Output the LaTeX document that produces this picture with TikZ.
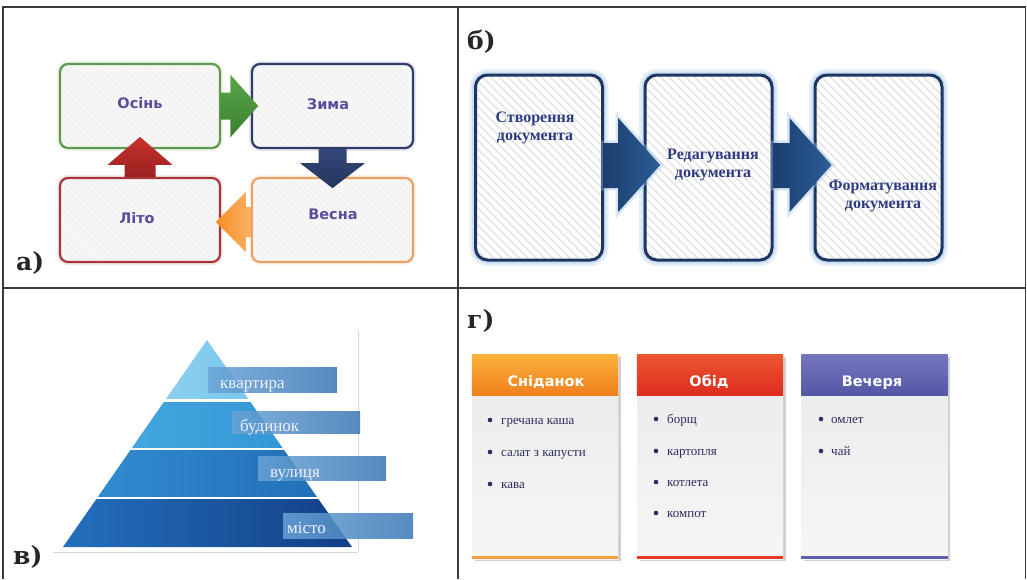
\documentclass[tikz,border=0pt]{standalone}
\usepackage{fontspec}
\setmainfont{Liberation Serif}
\newfontfamily\lblfont{DejaVu Serif}
\newfontfamily\sansfont{DejaVu Sans}
\usetikzlibrary{calc,patterns.meta,shadows}

\definecolor{framec}{HTML}{3A3A3A}
\definecolor{txtA}{HTML}{5A4E9C}
\definecolor{grnB}{HTML}{5E9A4E}
\definecolor{navB}{HTML}{2F3C68}
\definecolor{redB}{HTML}{A83838}
\definecolor{orgB}{HTML}{F0A060}
\definecolor{boxfill}{HTML}{F6F6F6}
\definecolor{grnA1}{HTML}{5AA84A}
\definecolor{grnA2}{HTML}{3A7F2E}
\definecolor{navA1}{HTML}{34467A}
\definecolor{navA2}{HTML}{26355E}
\definecolor{orgA1}{HTML}{F68C22}
\definecolor{orgA2}{HTML}{FBB266}
\definecolor{redA1}{HTML}{C8302A}
\definecolor{redA2}{HTML}{9A2222}
\definecolor{navyD}{HTML}{1D3563}
\definecolor{txtB}{HTML}{2E3B82}
\definecolor{glowB}{HTML}{9CC3E6}
\definecolor{arrB1}{HTML}{1B3E6E}
\definecolor{arrB2}{HTML}{2C5E96}
\definecolor{py1a}{HTML}{9ED8F2}
\definecolor{py1b}{HTML}{68BEE8}
\definecolor{py2a}{HTML}{4AAEE4}
\definecolor{py2b}{HTML}{2E8ED0}
\definecolor{py3a}{HTML}{3490D4}
\definecolor{py3b}{HTML}{1F6AB4}
\definecolor{py4a}{HTML}{2470BE}
\definecolor{py4b}{HTML}{123E84}
\definecolor{plabA}{HTML}{6AA4D6}
\definecolor{plabB}{HTML}{3A76B4}
\definecolor{cardA}{HTML}{EAEAEA}
\definecolor{cardB}{HTML}{F6F6F6}
\definecolor{h1a}{HTML}{FBB23A}
\definecolor{h1b}{HTML}{F07E1E}
\definecolor{h2a}{HTML}{EE5530}
\definecolor{h2b}{HTML}{DC2C1E}
\definecolor{h3a}{HTML}{7476BE}
\definecolor{h3b}{HTML}{5256A4}
\definecolor{s1}{HTML}{F5A040}
\definecolor{s2}{HTML}{E03A28}
\definecolor{s3}{HTML}{5E62AE}
\definecolor{itemc}{HTML}{2B2E5E}

\tikzset{
  panellabel/.style={font=\lblfont\bfseries\fontsize{25}{27}\selectfont, text=black!85, anchor=base west, inner sep=0pt},
  abox/.style={draw=#1, line width=2.2pt, rounded corners=8pt, minimum width=160pt, minimum height=84pt, inner sep=0pt,
    preaction={draw=#1!30, line width=6pt, opacity=0.35}, preaction={fill=boxfill},
    pattern={Lines[angle=-45,distance=4pt,line width=0.5pt]}, pattern color=gray!12},
  atext/.style={font=\sansfont\bfseries\fontsize{14.5}{16}\selectfont, text=txtA, inner sep=0pt},
  bbox/.style={draw=navyD, line width=3pt, rounded corners=12pt, minimum width=127pt, minimum height=185pt, inner sep=0pt,
    preaction={draw=glowB, line width=12pt, opacity=0.25}, preaction={draw=glowB, line width=7pt, opacity=0.35},
    preaction={fill=white}, pattern={Lines[angle=-45,distance=6pt,line width=1.4pt]}, pattern color=gray!22},
  btext/.style={font=\bfseries\fontsize{16}{18}\selectfont, text=txtB, align=center, inner sep=0pt},
  barrow/.style={left color=arrB1, right color=arrB2, preaction={draw=glowB, line width=5pt, opacity=0.4}},
  plab/.style={left color=plabA, right color=plabB, fill opacity=0.85, inner sep=0pt},
  ptxt/.style={font=\fontsize{17}{19}\selectfont, text=white!94!blue, anchor=base west, inner sep=0pt},
  card/.style={minimum width=146pt, minimum height=204pt, inner sep=0pt, top color=cardA, bottom color=cardB,
    drop shadow={shadow xshift=2.5pt, shadow yshift=-2pt, opacity=0.3, color=black!60}},
  htext/.style={font=\sansfont\bfseries\fontsize{14.5}{16}\selectfont, text=white, anchor=base, inner sep=0pt},
  itext/.style={font=\fontsize{13}{15}\selectfont, text=itemc, anchor=base west, inner sep=0pt},
  bul/.style={fill=itemc}
}

\begin{document}
\begin{tikzpicture}[x=1pt,y=-1pt]
\useasboundingbox (0,0) rectangle (1027,579);
\fill[white] (0,0) rectangle (1027,579);

% frame
\draw[framec, line width=1.8pt] (3,579) -- (3,7) -- (1025.5,7) -- (1025.5,579);
\draw[framec, line width=1.8pt] (458,7) -- (458,579);
\draw[framec, line width=1.8pt] (3,288) -- (1025.5,288);

% ---------- panel a ----------
\node[abox=grnB] (osin) at (140,106) {};
\node[abox=navB, minimum width=161pt] (zyma) at (332.5,106) {};
\node[abox=redB] (lito) at (140,220) {};
\node[abox=orgB, minimum width=161pt] (vesna) at (332.5,220) {};
\node[atext] (tosin) at (140,103) {Осінь};
\node[atext] (tzyma) at (328,104) {Зима};
\node[atext] (tlito) at (137,218) {Літо};
\node[atext] (tvesna) at (333,214) {Весна};

\path[shift={(osin.east)}, top color=grnA1, bottom color=grnA2]
  (0,-13.5) -- (10,-13.5) -- (10,-31.5) -- (38,0) -- (10,31.5) -- (10,13.5) -- (0,13.5) -- cycle;
\path[shift={(zyma.south)}, top color=navA1, bottom color=navA2]
  (-14,0) -- (-14,14) -- (-32.5,14) -- (0,39) -- (32.5,14) -- (14,14) -- (14,0) -- cycle;
\path[shift={(vesna.west)}, left color=orgA1, right color=orgA2]
  (0,-13) -- (-5,-13) -- (-5,-28) -- (-35,2) -- (-5,32) -- (-5,17) -- (0,17) -- cycle;
\path[shift={(lito.north)}, top color=redA1, bottom color=redA2]
  (-15.5,0) -- (-15.5,-12) -- (-32.5,-12) -- (0,-40) -- (32.5,-12) -- (15.5,-12) -- (15.5,0) -- cycle;

\node[panellabel] (la) at (16,270.5) {а)};

% ---------- panel b ----------
\node[panellabel] (lb) at (467,49) {б)};
\node[bbox] (b1) at (539,167.5) {};
\node[bbox] (b2) at (708.5,167.5) {};
\node[bbox] (b3) at (878.5,167.5) {};
\path[barrow, shift={(b1.east)}]
  (0,-24.5) -- (15,-24.5) -- (15,-49.5) -- (57,-2.5) -- (15,44.5) -- (15,20.5) -- (0,20.5) -- cycle;
\path[barrow, shift={(b2.east)}]
  (0,-24.5) -- (16,-24.5) -- (16,-49.5) -- (58,-2.5) -- (16,44.5) -- (16,20.5) -- (0,20.5) -- cycle;
\node[btext] (tb1) at (535,128) {Створення\\документа};
\node[btext] (tb2) at (713,165) {Редагування\\документа};
\node[btext] (tb3) at (883,196) {Форматування\\документа};

% ---------- panel v ----------
\draw[gray!30, line width=0.6pt] (53,552) -- (358,552);
\draw[gray!30, line width=0.6pt] (358,330) -- (358,552);
\begin{scope}
  \clip (207,340) -- (352,547) -- (63,547) -- cycle;
  \shade[left color=py1a, right color=py1b] (60,336) rectangle (356,398);
  \shade[left color=py2a, right color=py2b] (60,402) rectangle (356,447);
  \shade[left color=py3a, right color=py3b] (60,450) rectangle (356,496);
  \shade[left color=py4a, right color=py4b] (60,499) rectangle (356,547);
\end{scope}
\node[plab, minimum width=129pt, minimum height=25pt] (lkv) at (272.5,379.5) {};
\node[plab, minimum width=128pt, minimum height=22pt] (lbud) at (296,422) {};
\node[plab, minimum width=128pt, minimum height=24pt] (lvul) at (322,468) {};
\node[plab, minimum width=130pt, minimum height=25pt] (lmis) at (348,525.5) {};
\node[ptxt] (tkv) at (220,388) {квартира};
\node[ptxt] (tbud) at (240,431) {будинок};
\node[ptxt] (tvul) at (270,477) {вулиця};
\node[ptxt] (tmis) at (287,533) {місто};
\node[panellabel] (lv) at (13,564) {в)};

% ---------- panel g ----------
\node[panellabel] (lg) at (467,328) {г)};
\node[card] (c1) at (545,457) {};
\node[card] (c2) at (710,457) {};
\node[card] (c3) at (874.5,457) {};
\shade[top color=h1a, bottom color=h1b] (c1.north west) rectangle ($(c1.north east)+(0,41)$);
\shade[top color=h2a, bottom color=h2b] (c2.north west) rectangle ($(c2.north east)+(0,41)$);
\shade[top color=h3a, bottom color=h3b] (c3.north west) rectangle ($(c3.north east)+(0,41)$);
\fill[s1] ($(c1.south west)+(0,-3.5)$) rectangle (c1.south east);
\fill[s2] ($(c2.south west)+(0,-3.5)$) rectangle (c2.south east);
\fill[s3] ($(c3.south west)+(0,-3.5)$) rectangle (c3.south east);
\node[htext] (hc1) at (546,386) {Сніданок};
\node[htext] (hc2) at (709,386) {Обід};
\node[htext] (hc3) at (872,386) {Вечеря};

\foreach \y/\t in {424/гречана каша, 456/салат з капусти, 488/кава}{
  \fill[bul] (490,\y-4) circle (2.3pt);
  \node[itext] at (501,\y) {\t};
}
\foreach \y/\t in {423/борщ, 455/картопля, 486/котлета, 517/компот}{
  \fill[bul] (656,\y-4) circle (2.3pt);
  \node[itext] at (667,\y) {\t};
}
\foreach \y/\t in {423/омлет, 455/чай}{
  \fill[bul] (821,\y-4) circle (2.3pt);
  \node[itext] at (831,\y) {\t};
}
\end{tikzpicture}
\end{document}
